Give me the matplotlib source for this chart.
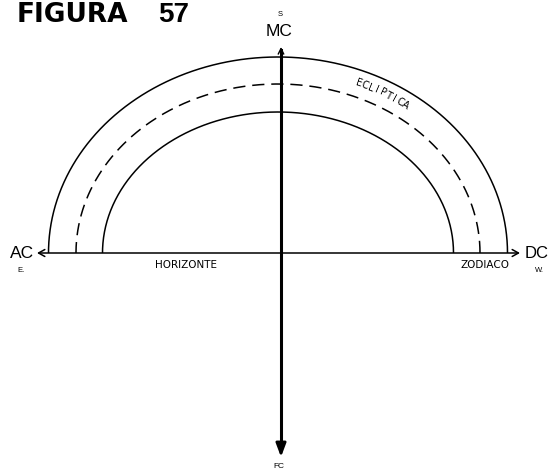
import numpy as np
import matplotlib.pyplot as plt

# geometria del diagrama (coordenadas en pixeles, y hacia abajo)
centro = (278, 253)
semiejes_x = [229.5, 202, 175.5]   # exterior, ecliptica, interior
semiejes_y = [196, 169, 141]
estilos = ["-", (0, (8, 4.5)), "-"]

horizonte = (37, 520)
meridiano_x = 281
meridiano = (47, 457)

fig = plt.figure(figsize=(5.5, 4.7), dpi=100)
ax = fig.add_axes([0, 0, 1, 1])
ax.set_xlim(0, 550)
ax.set_ylim(470, 0)
ax.axis("off")

t = np.linspace(0, np.pi, 400)
for a, b, ls in zip(semiejes_x, semiejes_y, estilos):
    ax.plot(centro[0] + a * np.cos(t), centro[1] - b * np.sin(t),
            color="black", lw=1.1, ls=ls, solid_capstyle="butt")

# horizonte con flechas abiertas
ax.annotate("", xy=(horizonte[0], centro[1]), xytext=(horizonte[1], centro[1]),
            arrowprops=dict(arrowstyle="<->,head_length=0.45,head_width=0.25",
                            lw=1.1, color="black", shrinkA=0, shrinkB=0))

# meridiano
ax.plot([meridiano_x, meridiano_x], [meridiano[0] + 3, meridiano[1] - 8],
        color="black", lw=2.2)
ax.annotate("", xy=(meridiano_x, meridiano[0]), xytext=(meridiano_x, meridiano[0] + 12),
            arrowprops=dict(arrowstyle="->,head_length=0.4,head_width=0.2",
                            lw=1.0, color="black", shrinkA=0, shrinkB=0))
ax.annotate("", xy=(meridiano_x, meridiano[1]), xytext=(meridiano_x, meridiano[1] - 15),
            arrowprops=dict(arrowstyle="-|>,head_length=0.8,head_width=0.3",
                            lw=2.0, color="black", fc="black", shrinkA=0, shrinkB=0))

fuente = "Liberation Sans"
ax.text(17, 15.5, "FIGURA", fontsize=19, fontweight="bold", family="DejaVu Sans",
        ha="left", va="center")
ax.text(158, 15.5, "57", fontsize=20, fontweight="bold", family=fuente,
        ha="left", va="center")

ax.text(280, 15, "S", fontsize=5.5, family=fuente, ha="center", va="center")
ax.text(279, 32, "MC", fontsize=12.5, family=fuente, ha="center", va="center")
ax.text(22, 253.5, "AC", fontsize=12.5, family=fuente, ha="center", va="center")
ax.text(21, 271, "E.", fontsize=5.5, family=fuente, ha="center", va="center")
ax.text(525, 253.5, "DC", fontsize=12, family=fuente, ha="left", va="center")
ax.text(539, 270, "W.", fontsize=5.5, family=fuente, ha="center", va="center")
ax.text(186, 265.5, "HORIZONTE", fontsize=7.5, family="DejaVu Sans",
        ha="center", va="center")
ax.text(485, 265.5, "ZODIACO", fontsize=7.5, family="DejaVu Sans",
        ha="center", va="center")
ax.text(279, 467, "FC", fontsize=6, family=fuente, ha="center", va="center")

# ECLIPTICA siguiendo el arco
palabra = "ECLIPTICA"
a_t, b_t = 216, 183
angulos = np.radians(np.linspace(68, 54, len(palabra)))
for letra, th in zip(palabra, angulos):
    x = centro[0] + a_t * np.cos(th)
    y = centro[1] - b_t * np.sin(th)
    rot = np.degrees(np.arctan2(-b_t * np.cos(th), a_t * np.sin(th)))
    ax.text(x, y, letra, fontsize=7, family="DejaVu Sans", ha="center", va="center",
            rotation=rot, rotation_mode="anchor")

fig.savefig("out.png", dpi=100)
